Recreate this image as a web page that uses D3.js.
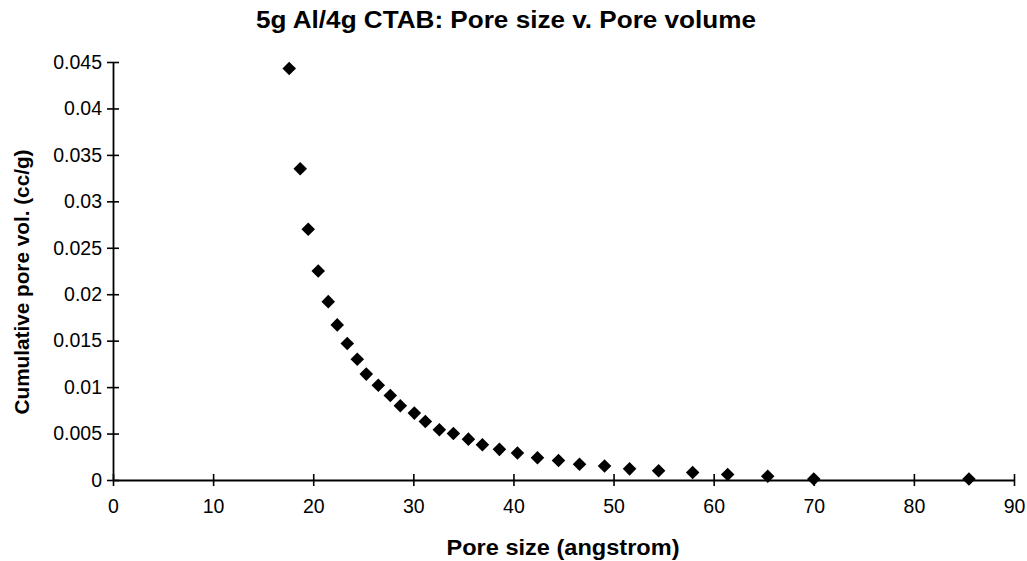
<!DOCTYPE html>
<html>
<head>
<meta charset="utf-8">
<script src="https://cdn.jsdelivr.net/npm/d3@7"></script>
<style>
  html, body { margin: 0; padding: 0; background: #fff; }
  svg { display: block; font-family: "Liberation Sans", Arial, sans-serif; }
</style>
</head>
<body>
<svg id="chart" width="1027" height="561"></svg>
<script>
const poreSize = [17.6, 18.7, 19.5, 20.5, 21.5, 22.4, 23.4, 24.4, 25.3, 26.5, 27.7, 28.7, 30.1, 31.2, 32.6, 34.0, 35.5, 36.9, 38.6, 40.4, 42.4, 44.5, 46.6, 49.1, 51.6, 54.5, 57.9, 61.4, 65.4, 70.0, 85.5];
const poreVol = [0.0443, 0.0335, 0.0270, 0.0225, 0.0192, 0.0167, 0.0147, 0.0130, 0.0114, 0.0102, 0.0091, 0.0080, 0.0072, 0.0063, 0.0054, 0.0050, 0.0044, 0.0038, 0.0033, 0.0029, 0.0024, 0.0021, 0.0017, 0.0015, 0.0012, 0.0010, 0.0008, 0.0006, 0.0004, 0.0001, 0.0001];
const xTicks = [0, 10, 20, 30, 40, 50, 60, 70, 80, 90];
const yTicks = [0, 0.005, 0.01, 0.015, 0.02, 0.025, 0.03, 0.035, 0.04, 0.045];
const yTickLabels = ["0", "0.005", "0.01", "0.015", "0.02", "0.025", "0.03", "0.035", "0.04", "0.045"];
const titleText = "5g Al/4g CTAB: Pore size v. Pore volume";
const xTitle = "Pore size (angstrom)";
const yTitle = "Cumulative pore vol. (cc/g)";

const svg = d3.select("#chart");
const mLeft = 113, mRight = 1014, mTop = 62, mBottom = 480;

const x = d3.scaleLinear().domain([0, 90]).range([mLeft, mRight]);
const y = d3.scaleLinear().domain([0, 0.045]).range([mBottom, mTop]);

// Y axis
const yAxis = svg.append("g").attr("transform", `translate(${mLeft},0)`)
  .call(d3.axisLeft(y).tickValues(yTicks).tickSizeInner(6).tickSizeOuter(0)
    .tickFormat((d, i) => yTickLabels[i]).tickPadding(12));
yAxis.selectAll(".tick line").attr("x2", 6).attr("x1", -6).attr("stroke", "#000").attr("stroke-width", 1.6);
yAxis.select(".domain").attr("stroke", "#000").attr("stroke-width", 1.8);
yAxis.selectAll(".tick text").attr("font-size", 19.5).attr("fill", "#000")
  .attr("font-family", "'Liberation Sans', Arial, sans-serif").attr("x", -11);

// X axis
const xAxis = svg.append("g").attr("transform", `translate(0,${mBottom})`)
  .call(d3.axisBottom(x).tickValues(xTicks).tickSizeInner(6).tickSizeOuter(0).tickPadding(13));
xAxis.selectAll(".tick line").attr("y1", -6).attr("y2", 6).attr("stroke", "#000").attr("stroke-width", 1.6);
xAxis.select(".domain").attr("stroke", "#000").attr("stroke-width", 1.8);
xAxis.selectAll(".tick text").attr("font-size", 19.5).attr("fill", "#000")
  .attr("font-family", "'Liberation Sans', Arial, sans-serif");

// Points
const diamond = d3.symbol().type(d3.symbolSquare).size(92);
svg.append("g").selectAll("path")
  .data(d3.zip(poreSize, poreVol))
  .join("path")
  .attr("d", diamond)
  .attr("transform", d => `translate(${x(d[0])},${y(d[1])}) rotate(45)`)
  .attr("fill", "#000");

// Titles
svg.append("text")
  .attr("x", 506).attr("y", 28)
  .attr("text-anchor", "middle")
  .attr("font-size", 23).attr("font-weight", "bold")
  .attr("textLength", 500).attr("lengthAdjust", "spacingAndGlyphs")
  .text(titleText);

svg.append("text")
  .attr("x", 563).attr("y", 555)
  .attr("text-anchor", "middle")
  .attr("font-size", 22).attr("font-weight", "bold")
  .attr("textLength", 233).attr("lengthAdjust", "spacingAndGlyphs")
  .text(xTitle);

svg.append("text")
  .attr("transform", "translate(29,282) rotate(-90)")
  .attr("text-anchor", "middle")
  .attr("font-size", 20.5).attr("font-weight", "bold")
  .attr("textLength", 265).attr("lengthAdjust", "spacingAndGlyphs")
  .text(yTitle);
</script>
</body>
</html>
